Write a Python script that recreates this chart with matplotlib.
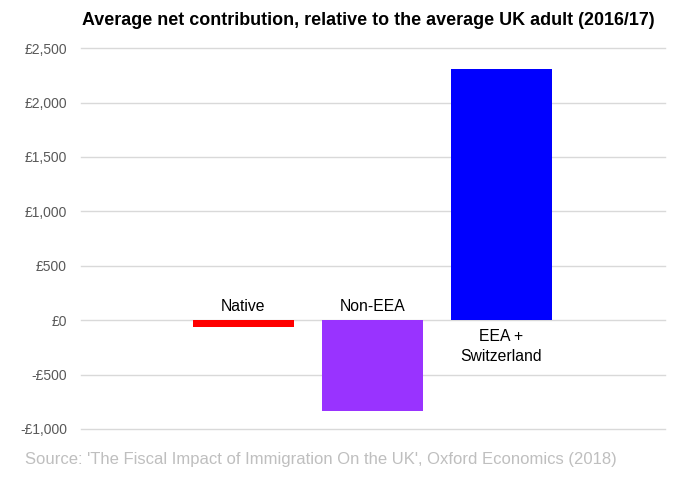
import matplotlib
matplotlib.use("Agg")
import matplotlib.pyplot as plt
from matplotlib.ticker import FuncFormatter

categories = ["Native", "Non-EEA", "EEA +\nSwitzerland"]
values = [-65, -836, 2307]
colors = ["#FF0000", "#9933FF", "#0000FF"]
yticks = [-1000, -500, 0, 500, 1000, 1500, 2000, 2500]

plt.rcParams['font.family'] = ['Liberation Sans', 'DejaVu Sans']

fig = plt.figure(figsize=(6.85, 4.82), dpi=100)
ax = fig.add_axes([0.118, 0.110, 0.853, 0.790])

x = list(range(len(categories)))
ax.bar(x, values, width=0.78, color=colors, zorder=3)
ax.set_xlim(-1.26, 3.27)
ax.set_ylim(-1000, 2500)
ax.set_yticks(yticks)

def fmt(v, pos):
    v = int(v)
    return ("-" if v < 0 else "") + "£{:,}".format(abs(v))
ax.yaxis.set_major_formatter(FuncFormatter(fmt))
ax.tick_params(axis='y', length=0, labelsize=10, labelcolor="#595959", pad=10)
ax.set_xticks([])
ax.grid(axis='y', color="#D9D9D9", linewidth=1, zorder=0)
for gl in ax.yaxis.get_gridlines():
    gl.set_clip_on(False)
for s in ax.spines.values():
    s.set_visible(False)

for xi, v, c in zip(x, values, categories):
    if v < 0:
        ax.text(xi, 55, c, ha='center', va='bottom', fontsize=11.3, color="#000000")
    else:
        ax.text(xi, -80, c, ha='center', va='top', fontsize=11.3, color="#000000", linespacing=1.45)

fig.text(0.538, 0.958, "Average net contribution, relative to the average UK adult (2016/17)",
         ha='center', va='center', fontsize=12.9, fontweight='bold', color="#000000")
fig.text(0.036, 0.046, "Source: 'The Fiscal Impact of Immigration On the UK', Oxford Economics (2018)",
         ha='left', va='center', fontsize=12, color="#BFBFBF")

fig.savefig("out.png", dpi=100)
